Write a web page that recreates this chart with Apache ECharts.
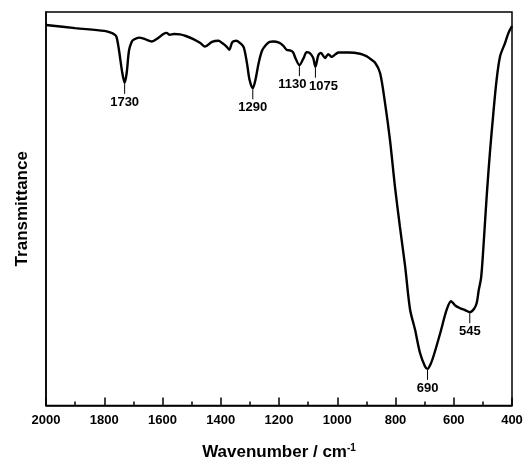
<!DOCTYPE html>
<html>
<head>
<meta charset="utf-8">
<script src="https://cdn.jsdelivr.net/npm/echarts@6/dist/echarts.min.js"></script>
<style>
  html, body { margin: 0; padding: 0; background: #fff; }
  #chart { width: 531px; height: 466px; }
</style>
</head>
<body>
<div id="chart"></div>
<script>
// wavenumber (cm-1) and transmittance (a.u.)
var wavenumber = [2000, 1900, 1800, 1780, 1765, 1758, 1750, 1738, 1730, 1723, 1715, 1706, 1698,
    1680, 1660, 1637, 1615, 1597, 1586, 1575, 1560, 1540, 1520, 1494, 1470, 1454, 1430, 1408,
    1395, 1380, 1371, 1360, 1346, 1332, 1321, 1310, 1301, 1290, 1281, 1270, 1258, 1245, 1232,
    1220, 1200, 1185, 1174, 1160, 1152, 1143, 1130, 1116, 1105, 1095, 1083, 1075, 1065, 1056,
    1042, 1031, 1019, 1005, 996, 960, 922, 900, 888, 870, 853, 836, 819, 802, 785, 767, 750,
    733, 716, 699, 690, 680, 668, 646, 624, 609, 595, 577, 560, 545, 530, 521, 514, 506, 498,
    487, 476, 464, 453, 441, 424, 412, 400];
var transmittance = [96.7, 95.9, 95.2, 94.8, 94.3, 93.7, 90.6, 84.5, 82.0, 84.5, 90.2, 92.4, 93.0,
    93.5, 93.1, 92.5, 93.4, 94.4, 94.7, 94.2, 94.4, 94.3, 93.9, 93.1, 92.1, 91.2, 92.4, 92.7,
    92.1, 91.2, 90.4, 92.4, 92.7, 92.0, 91.0, 87.0, 82.7, 80.6, 82.7, 87.0, 90.2, 91.6, 92.4,
    92.5, 92.2, 91.4, 90.4, 90.2, 89.8, 88.2, 86.5, 88.2, 89.8, 89.6, 88.4, 86.1, 89.0, 89.6,
    88.3, 89.3, 88.6, 89.3, 89.7, 89.7, 89.4, 88.8, 88.2, 87.1, 84.5, 76.9, 67.5, 55.7, 45.5,
    35.4, 24.4, 19.3, 13.4, 10.0, 9.3, 10.4, 12.9, 18.5, 24.4, 26.5, 25.4, 24.7, 24.2, 23.7,
    24.6, 26.1, 29.4, 32.5, 40.4, 53.1, 64.1, 74.3, 82.7, 88.7, 92.1, 94.7, 96.4];

// labelled bands
var peakWn = [1730, 1290, 1130, 1075, 690, 545];
var peakLabels = ['1730', '1290', '1130', '1075', '690', '545'];

var xTicks = [2000, 1800, 1600, 1400, 1200, 1000, 800, 600, 400];

var FONT = '"Liberation Sans", Arial, sans-serif';

var spectrum = wavenumber.map(function (w, i) { return [w, transmittance[i]]; });
var peaks = peakWn.map(function (w, i) {
    return [w, transmittance[wavenumber.indexOf(w)], peakLabels[i]];
});
// small sideways nudges so the close labels don't collide
var labelShift = { '1130': -7, '1075': 8 };

var chart = echarts.init(document.getElementById('chart'));
chart.setOption({
    animation: false,
    grid: {
        left: 46, right: 19, top: 12, bottom: 60,
        show: true, borderColor: '#000', borderWidth: 1.5, backgroundColor: 'transparent'
    },
    xAxis: {
        type: 'value',
        inverse: true,
        min: 400, max: 2000, interval: 200,
        name: '{a|Wavenumber / cm}{b|-1}',
        nameLocation: 'middle',
        nameGap: 38,
        nameTextStyle: {
            rich: {
                a: { fontFamily: FONT, fontWeight: 'bold', fontSize: 17, color: '#000' },
                b: { fontFamily: FONT, fontWeight: 'bold', fontSize: 10, color: '#000', verticalAlign: 'top', padding: [0, 0, 8, 0] }
            }
        },
        axisLine: { lineStyle: { color: '#000', width: 1.5 } },
        axisTick: { inside: true, length: 8, lineStyle: { color: '#000', width: 1.5 } },
        minorTick: { show: true, splitNumber: 2, length: 4, lineStyle: { color: '#000', width: 1.5 } },
        axisLabel: {
            color: '#000', fontFamily: FONT, fontWeight: 'bold', fontSize: 13, margin: 8,
            showMinLabel: true, showMaxLabel: true,
            formatter: function (v) { return xTicks.indexOf(v) >= 0 ? String(v) : ''; }
        },
        splitLine: { show: false }
    },
    yAxis: {
        type: 'value',
        min: 0, max: 100,
        name: 'Transmittance',
        nameLocation: 'middle',
        nameGap: 15,
        nameTextStyle: { color: '#000', fontFamily: FONT, fontWeight: 'bold', fontSize: 17 },
        axisLine: { show: true, lineStyle: { color: '#000', width: 1.5 } },
        axisTick: { show: false },
        axisLabel: { show: false },
        splitLine: { show: false }
    },
    series: [
        {
            type: 'line',
            data: spectrum,
            symbol: 'none',
            smooth: 0.3,
            lineStyle: { color: '#000', width: 2.4 }
        },
        {
            type: 'custom',
            data: peaks,
            renderItem: function (params, api) {
                var p = api.coord([api.value(0), api.value(1)]);
                var txt = peakLabels[params.dataIndex];
                var dx = labelShift[txt] || 0;
                return {
                    type: 'group',
                    children: [
                        {
                            type: 'line',
                            shape: { x1: p[0], y1: p[1] + 1, x2: p[0], y2: p[1] + 11 },
                            style: { stroke: '#000', lineWidth: 1 }
                        },
                        {
                            type: 'text',
                            style: {
                                x: p[0] + dx, y: p[1] + 13,
                                text: txt,
                                align: 'center', verticalAlign: 'top',
                                font: 'bold 13px ' + FONT,
                                fill: '#000'
                            }
                        }
                    ]
                };
            }
        }
    ]
});
</script>
</body>
</html>
